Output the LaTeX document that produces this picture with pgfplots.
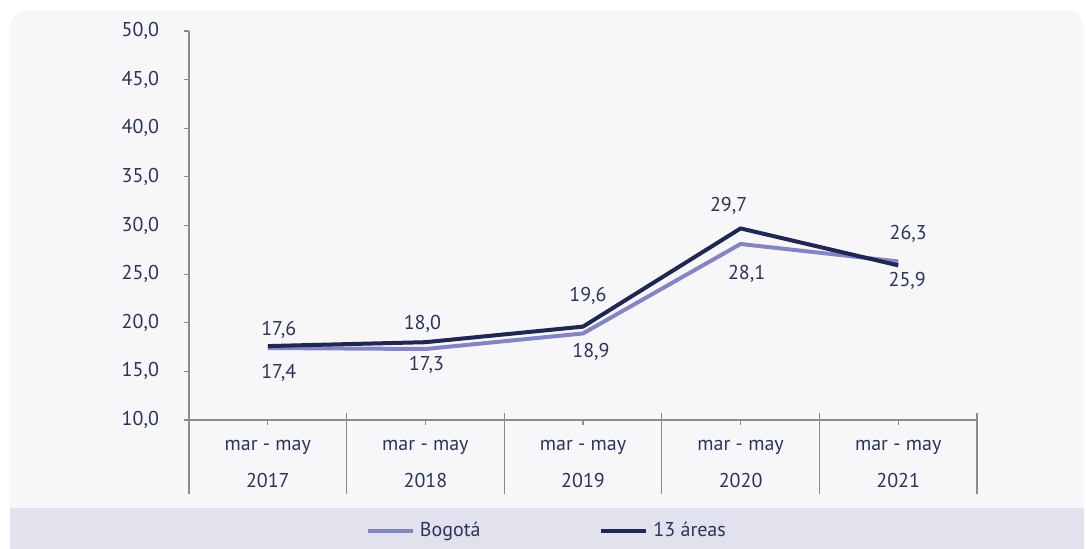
\documentclass[border=0pt]{standalone}
\usepackage{pgfplots}
\pgfplotsset{compat=1.18}
\usepackage{pgfplotstable}
\usepackage{fontspec}
\setmainfont{PT Sans}

\definecolor{bgpanel}{HTML}{F7F7FA}
\definecolor{bgband}{HTML}{E1E2EE}
\definecolor{navy}{HTML}{1F2850}
\definecolor{lilac}{HTML}{8585C4}
\definecolor{ink}{HTML}{2B3459}
\definecolor{axisgray}{HTML}{8C8C8C}

% x = category index, dx/dy = label offset in pt
\pgfplotstableread{
x y dx dy
0 17.4 5.5 -12.3
1 17.3 0.5 -8
2 18.9 4 -9.3
3 28.1 3 -15
4 26.3 5 14
}\bogota
\pgfplotstableread{
x y dx dy
0 17.6 5.5 8
1 18.0 -1.5 9
2 19.6 2.5 15.3
3 29.7 -6 11.5
4 25.9 4.5 -8
}\areas

\begin{document}
\begin{tikzpicture}[font=\fontsize{10}{12}\selectfont]
\useasboundingbox (0,0) rectangle (543pt,274.5pt);
\fill[bgpanel, rounded corners=8pt] (5pt,-15pt) rectangle (542pt,269pt);
\fill[bgband] (5pt,0pt) rectangle (542pt,20.5pt);
\begin{axis}[
    at={(94.5pt,64.5pt)}, anchor=south west,
    scale only axis, width=394pt, height=194.5pt,
    xmin=-0.5, xmax=4.5, ymin=10, ymax=50,
    xtick={0,...,4}, ytick={10,15,...,50},
    xticklabels={mar - may\\[6.5pt]2017, mar - may\\[6.5pt]2018, mar - may\\[6.5pt]2019, mar - may\\[6.5pt]2020, mar - may\\[6.5pt]2021},
    xticklabel style={align=center, text=ink, yshift=-4pt},
    yticklabel style={text=ink, xshift=-9pt},
    /pgf/number format/.cd, fixed, fixed zerofill, precision=1, use comma, assume math mode=true,
    /pgfplots/.cd,
    axis x line=bottom, axis y line=left,
    axis line style={-, axisgray, line width=0.6pt},
    tick align=outside, major tick length=2.5pt,
    tick style={axisgray, line width=0.6pt},
    clip=false,
    legend style={at={(0.224,-0.285)}, anchor=west, draw=none, fill=none,
        legend columns=2, text=ink, inner sep=0pt,
        nodes={inner sep=2.5pt},
        /tikz/every even column/.append style={column sep=57pt}},
    legend image code/.code={\draw[#1, line width=2pt] (0pt,0pt) -- (22.5pt,0pt);},
    nodes near coords,
    visualization depends on={\thisrow{dx} \as \dx},
    visualization depends on={\thisrow{dy} \as \dy},
    every node near coord/.append style={anchor=center, xshift=\dx pt, yshift=\dy pt, text=ink},
]
\addplot[lilac, line width=2pt, line join=round] table[x=x, y=y] {\bogota};
\addplot[navy, line width=2pt, line join=round] table[x=x, y=y] {\areas};
\legend{Bogotá, 13 áreas}
\pgfplotsinvokeforeach{-0.5,0.5,1.5,2.5,3.5,4.5}{
  \draw[axisgray, line width=0.6pt] (axis cs:#1,10) ++(0pt,3.5pt) -- ++(0pt,-40.5pt);
}
\end{axis}
\end{tikzpicture}
\end{document}
